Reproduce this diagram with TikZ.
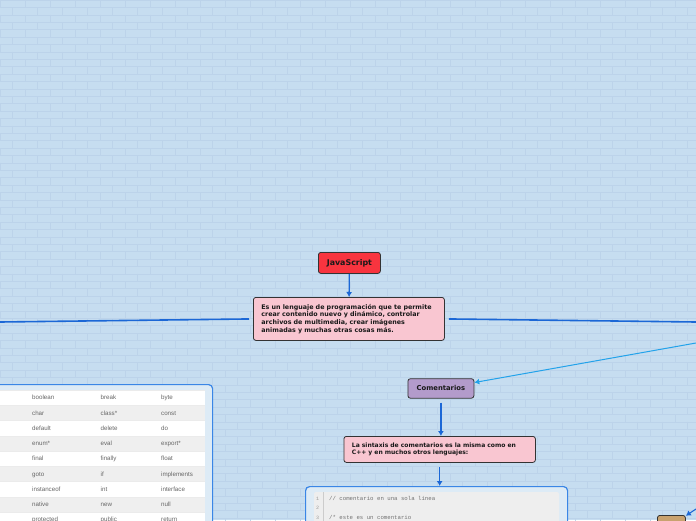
\documentclass[tikz,border=0pt]{standalone}
\usepackage{fontspec}
\setmainfont{DejaVu Sans}
\newfontfamily\tblfont{Liberation Sans}
\newfontfamily\codefont{Liberation Mono}
\usetikzlibrary{arrows.meta}
\definecolor{bg}{HTML}{C6DDF0}
\definecolor{brick}{HTML}{BCD3EA}
\definecolor{jsred}{HTML}{F8343F}
\definecolor{pinkbox}{HTML}{F9C6D1}
\definecolor{lav}{HTML}{B39BCB}
\definecolor{tanbox}{HTML}{C9A26F}
\definecolor{arrowblue}{HTML}{1B67D6}
\definecolor{lightblue}{HTML}{22A2EA}
\definecolor{frameblue}{HTML}{3A86E6}
\definecolor{rowgray}{HTML}{EFEFEF}
\definecolor{panelgray}{HTML}{EEEEEE}
\definecolor{tbltext}{HTML}{666666}
\begin{document}
\begin{tikzpicture}[x=1pt,y=-1pt,
  topic/.style={draw=black!80, line width=0.8pt, rounded corners=2.5pt, text=black!90, inner ysep=0pt, anchor=north west},
  desctext/.style={font=\bfseries\fontsize{6.35}{7.8}\selectfont, align=left, inner xsep=8pt},
  syntext/.style={font=\bfseries\fontsize{6.05}{7.4}\selectfont, align=left, inner xsep=8pt},
  conn/.style={arrowblue, line width=1.3pt, -{Latex[length=5pt,width=6pt]}},
  plainconn/.style={arrowblue, line width=1.6pt},
  lightconn/.style={lightblue, line width=1pt, -{Latex[length=5pt,width=6pt]}},
  boxframe/.style={draw=frameblue, line width=1.2pt, rounded corners=4pt, fill=bg!60!white, anchor=north west},
  tblcell/.style={font=\tblfont\fontsize{6.2}{7}\selectfont, text=tbltext, anchor=base west, inner sep=0pt},
  codeline/.style={font=\codefont\fontsize{5.7}{7}\selectfont, text=black!55, anchor=base west, inner sep=0pt},
  lineno/.style={font=\codefont\fontsize{5}{6}\selectfont, text=black!40, anchor=base, inner sep=0pt}]
\clip (0,0) rectangle (696,520);
\fill[bg] (0,0) rectangle (696,520);
% brick pattern
\foreach \r in {0,...,71} {
  \pgfmathsetmacro{\yy}{\r*7.4}
  \draw[brick, line width=0.4pt] (0,\yy) -- (696,\yy);
  \pgfmathsetmacro{\off}{mod(\r,2)*12.5}
  \foreach \c in {0,...,28} {
    \pgfmathsetmacro{\xx}{\c*25+\off}
    \draw[brick, line width=0.4pt] (\xx,\yy) -- (\xx,\yy+7.4);
  }
}

% main nodes
\node[topic, fill=jsred, font=\bfseries\fontsize{7.9}{9}\selectfont, minimum width=62pt, minimum height=21pt] (js) at (318,252) {JavaScript};
\node[topic, desctext, fill=pinkbox, text width=175pt, minimum height=43pt] (desc) at (253,297)
  {Es un lenguaje de programación que te permite\\crear contenido nuevo y dinámico, controlar\\archivos de multimedia, crear imágenes\\animadas y muchas otras cosas más.};
\node[topic, fill=lav, font=\bfseries\fontsize{6.8}{8}\selectfont, minimum width=66pt, minimum height=19.5pt] (com) at (407.5,378.3) {Comentarios};
\node[topic, syntext, fill=pinkbox, text width=175.5pt, minimum height=26pt] (syn) at (343.5,436)
  {La sintaxis de comentarios es la misma como en\\C++ y en muchos otros lenguajes:};
\node[topic, fill=tanbox, minimum width=28pt, minimum height=20pt] (tan) at (657,515) {};

\coordinate (leftend) at (0,322);
\coordinate (rightend) at (696,322);
\coordinate (rin) at (696,343);
\coordinate (tanin) at (696,509);

% code block
\node[boxframe, minimum width=262pt, minimum height=50pt] (code) at (305,486) {};
\fill[panelgray, rounded corners=2pt] (314,492) rectangle (559,540);
\draw[black!20, line width=0.5pt] (323,492) -- (323,540);
\node[lineno] (n1) at (317.5,500) {1};
\node[lineno] (n2) at (317.5,509.5) {2};
\node[lineno] (n3) at (317.5,519) {3};
\node[codeline] (c1) at (329,500) {// comentario en una sola línea};
\node[codeline] (c3) at (329,519) {/* este es un comentario};

% keyword table
\node[boxframe, minimum width=222pt, minimum height=150pt] (tbl) at (-10,384) {};
\foreach \i/\a/\b/\c in {0/boolean/break/byte,1/char/class*/const,2/default/delete/do,3/enum*/eval/export*,4/final/finally/float,5/goto/if/implements,6/instanceof/int/interface,7/native/new/null,8/protected/public/return} {
  \pgfmathsetmacro{\ya}{390+15.25*\i}
  \pgfmathsetmacro{\yc}{\ya+9.8}
  \pgfmathtruncatemacro{\odd}{mod(\i,2)}
  \ifnum\odd=1
    \fill[rowgray] (-10,\ya) rectangle (205,\ya+15.25);
  \else
    \fill[white] (-10,\ya) rectangle (205,\ya+15.25);
  \fi
  \draw[black!8, line width=0.4pt] (-10,\ya) -- (205,\ya);
  \node[tblcell] (ka\i) at (32,\yc) {\a};
  \node[tblcell] (kb\i) at (100.5,\yc) {\b};
  \node[tblcell] (kc\i) at (161,\yc) {\c};
}

% connectors
\draw[conn] (js) -- (desc);
\draw[plainconn, shorten <=4pt] (desc.west) -- (leftend);
\draw[plainconn, shorten <=4pt] (desc.east) -- (rightend);
\draw[lightconn] (rin) -- (com);
\draw[conn, shorten <=4pt] (com) -- (com.south |- syn.north);
\draw[conn, shorten <=4.5pt] (syn) -- (syn.south |- code.north);
\draw[conn, line width=1pt] (tanin) -- (tan);
\end{tikzpicture}
\end{document}
